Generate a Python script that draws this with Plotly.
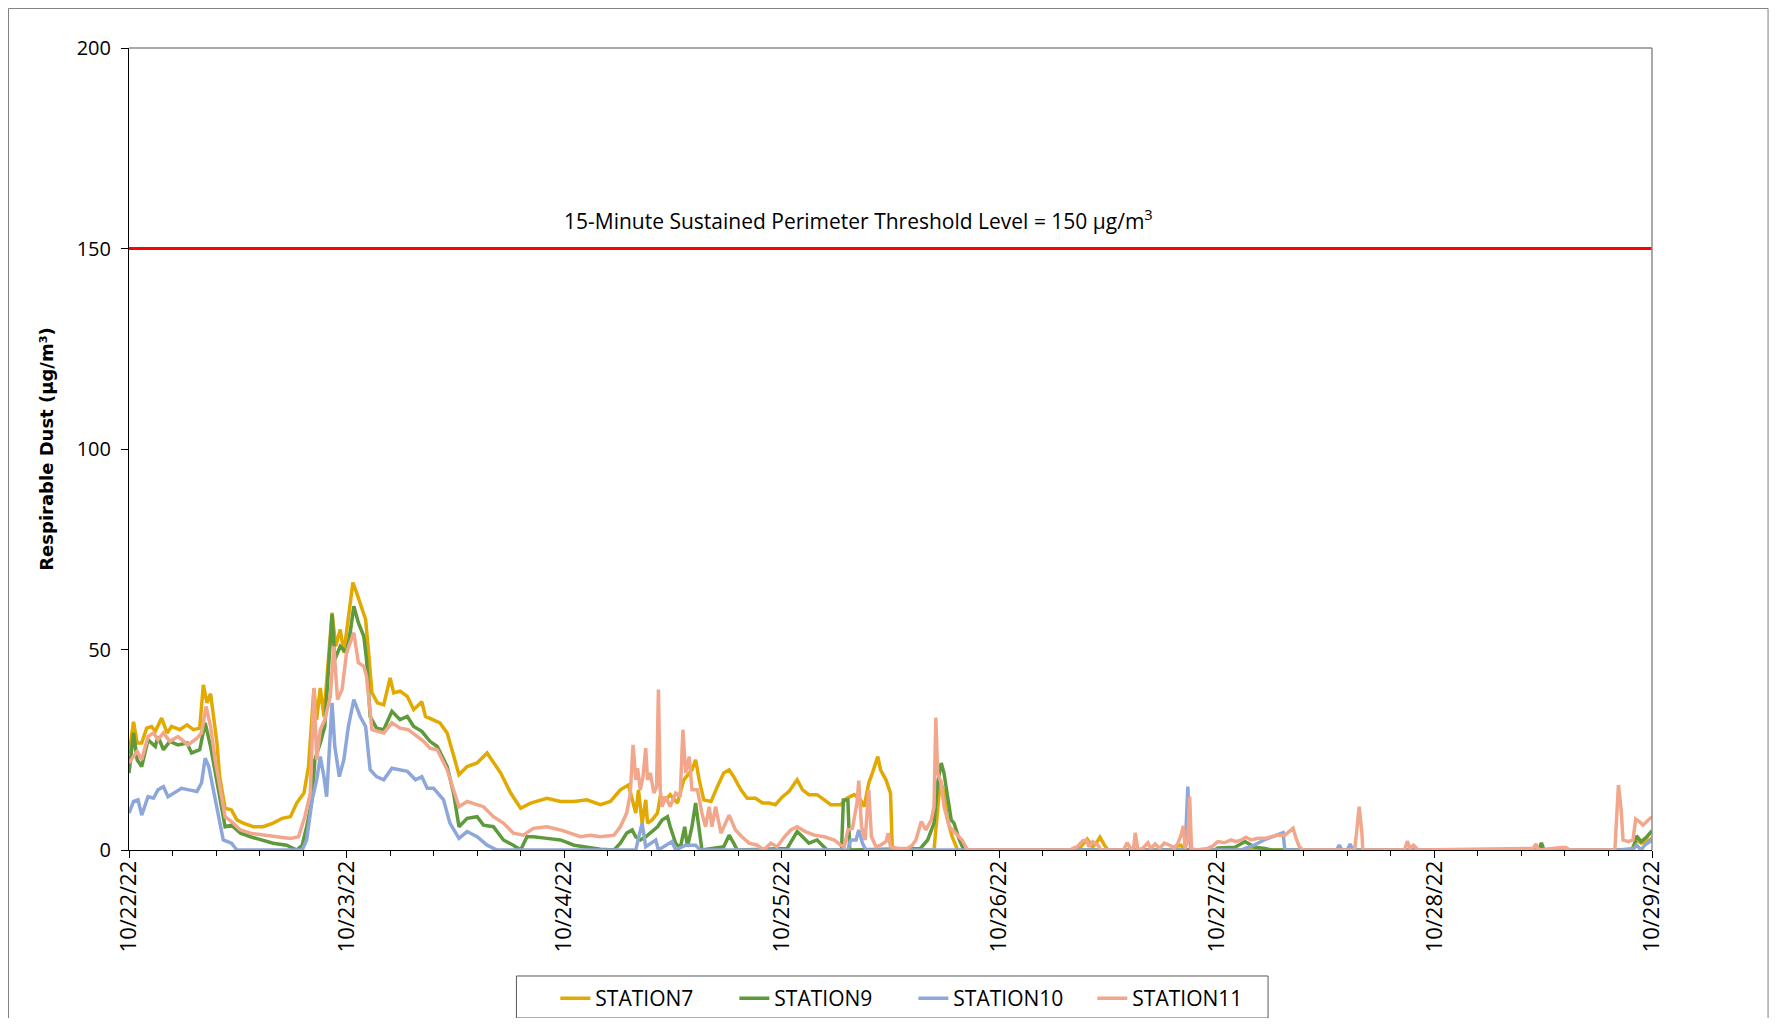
import pandas as pd
import plotly.graph_objects as go

start = pd.Timestamp("2022-10-22")
names = ["STATION7", "STATION9", "STATION10", "STATION11"]
threshold = 150

# (hours since 10/22/22 00:00, µg/m3)
station7 = [
    (0, 24), (0.5, 32), (0.9, 26.7), (1.4, 26.7), (1.95, 30.4), (2.5, 30.8), (2.9, 29.6), (3.6, 32.9),
    (4.2, 29.2), (4.7, 30.8), (5.6, 30), (6.4, 31.2), (7.1, 30), (7.8, 30.4), (8.2, 41.2), (8.6, 36.7),
    (9.0, 39), (9.3, 33.3), (9.7, 26.7), (10.0, 18.3), (10.6, 10.4), (11.3, 10), (11.9, 7.5), (12.6, 6.7),
    (13.7, 5.8), (14.8, 5.8), (15.9, 6.7), (16.9, 7.9), (17.8, 8.3), (18.5, 11.7), (19.3, 14.2), (19.8, 20.8),
    (20.4, 40.4), (20.7, 32.5), (21.1, 40.4), (21.5, 33.3), (22.0, 46.7), (22.4, 59.2), (22.8, 50.8), (23.3, 55),
    (23.7, 49.2), (24.2, 57.5), (24.7, 66.7), (25.1, 64.2), (25.5, 61.7), (26.1, 57.5), (26.4, 50), (26.8, 39.2),
    (27.4, 36.7), (28.1, 36.2), (28.8, 42.9), (29.2, 39.2), (29.9, 39.6), (30.7, 38.3), (31.4, 35), (32.3, 37),
    (32.7, 33.3), (33.6, 32.5), (34.3, 31.7), (35.1, 29.2), (35.8, 23.8), (36.4, 18.8), (37.3, 20.8), (38.4, 21.7),
    (39.5, 24.2), (40.2, 21.7), (41.0, 19.2), (42.1, 14.2), (43.2, 10.4), (44.3, 11.7), (46.1, 12.9), (47.6, 12.1),
    (49.1, 12.1), (50.5, 12.5), (52.0, 11.3), (53.1, 12.1), (54.2, 15), (55.1, 16.2), (55.5, 12.5), (55.9, 9.2),
    (56.2, 15), (56.6, 6.7), (57.0, 12.5), (57.2, 6.7), (57.7, 7.5), (58.3, 9.2), (58.6, 13.3), (59.2, 12.5),
    (59.7, 13.8), (60.5, 11.7), (61.2, 17.5), (61.8, 19.2), (62.1, 20), (62.5, 22.5), (62.9, 17.5), (63.4, 12.5),
    (64.2, 12.1), (64.9, 15.8), (65.6, 19.2), (66.2, 20), (66.7, 18.3), (67.5, 15), (68.2, 12.9), (69.1, 12.9),
    (69.9, 11.7), (70.6, 11.7), (71.3, 11.3), (72.1, 13.3), (72.8, 14.6), (73.7, 17.5), (74.3, 15), (75.0, 13.8),
    (75.9, 13.8), (76.7, 12.5), (77.4, 11.3), (78.5, 11.3), (79.2, 12.9), (80.0, 13.8), (80.7, 12.5), (81.1, 10.8),
    (81.6, 16.7), (82.0, 19.2), (82.6, 23.3), (82.9, 20), (83.5, 17.5), (84.0, 14.2), (84.2, 0), (88.8, 0),
    (89.2, 10.8), (89.5, 17.5), (89.9, 14.2), (90.3, 7.5), (90.8, 3.3), (91.2, 0.8), (91.4, 0), (104.5, 0),
    (105.0, 0.8), (105.7, 2.7), (106.3, 0.8), (106.7, 1.7), (107.1, 3.2), (107.6, 1.2), (108.0, 0), (115.0, 0),
    (115.3, 0.8), (116.05, 1.2), (116.4, 0), (122.8, 0), (123.3, 0.5), (124.0, 0.3), (124.5, 0), (165.7, 0),
    (166.3, 2.5), (166.8, 1.7), (167.4, 2.1), (168, 2.9),
]

station9 = [
    (0, 19.2), (0.5, 29.2), (0.9, 22.5), (1.4, 20.8), (2.1, 27.5), (2.9, 25.8), (3.2, 28.3), (3.8, 25),
    (4.5, 27.1), (5.4, 26.2), (6.4, 26.7), (6.9, 24.2), (7.8, 25), (8.4, 31.7), (9.0, 25.8), (9.5, 19.2),
    (10.0, 12.5), (10.6, 5.8), (11.3, 6.2), (12.3, 4.2), (13.4, 3.3), (14.5, 2.5), (15.9, 1.7), (17.4, 1.2),
    (18.5, 0), (19.1, 1.2), (19.6, 5.8), (20.2, 12.5), (20.5, 22.5), (21.1, 26.7), (21.6, 30.8), (22.0, 45),
    (22.4, 58.8), (22.7, 47.5), (23.3, 50.8), (24.0, 49.2), (24.4, 54.2), (24.8, 60.8), (25.3, 56.7), (25.9, 53.3),
    (26.2, 47.5), (26.6, 33.3), (27.3, 30.4), (28.1, 30), (29.0, 34.6), (29.9, 32.5), (30.7, 33.3), (31.4, 30.8),
    (32.3, 29.6), (33.2, 27.1), (34.0, 25.8), (35.1, 20.8), (35.8, 14.2), (36.4, 5.8), (37.3, 7.9), (38.4, 8.3),
    (39.1, 6.2), (40.2, 5.8), (41.3, 2.5), (42.4, 1.2), (43.2, 0), (43.9, 3.3), (44.6, 3.3), (46.1, 2.9),
    (47.6, 2.5), (49.1, 1.2), (50.5, 0.8), (52.0, 0.2), (53.5, 0), (54.2, 1.7), (54.9, 4.2), (55.5, 5),
    (55.9, 3.3), (56.4, 2.5), (57.0, 3.3), (57.5, 4.2), (58.3, 5.8), (58.8, 7.5), (59.4, 8.3), (59.7, 5.8),
    (60.3, 1.7), (60.8, 0.4), (61.3, 5.8), (61.6, 0.8), (62.1, 5.8), (62.5, 11.7), (62.9, 4.2), (63.2, 0),
    (65.6, 0.8), (66.2, 3.7), (66.7, 1.7), (67.1, 0), (72.6, 0.4), (73.2, 2.5), (73.7, 4.6), (74.3, 3.3),
    (75.0, 1.7), (75.9, 2.5), (76.7, 0.8), (77.0, 0), (78.6, 0), (78.8, 12.5), (79.3, 12.5), (79.5, 0),
    (87.3, 0.4), (88.1, 2.5), (88.8, 6.7), (89.2, 16.7), (89.6, 21.7), (89.9, 19.2), (90.3, 13.3), (90.7, 7.5),
    (91.0, 6.7), (91.6, 2.5), (92.1, 0), (119.8, 0), (120.1, 0.5), (122.0, 0.7), (123.1, 2.1), (124.2, 0.7),
    (125.3, 0.4), (126.0, 0), (155.5, 0), (155.8, 1.8), (156.1, 0), (165.9, 0), (166.3, 3.5), (166.8, 2.1),
    (167.4, 3.2), (168, 4.8),
]

station10 = [
    (0, 9.2), (0.5, 12.1), (1.0, 12.5), (1.4, 8.7), (2.1, 13.3), (2.7, 12.9), (3.2, 15), (3.8, 15.8),
    (4.3, 13.3), (4.9, 14.2), (5.8, 15.4), (6.6, 15), (7.5, 14.6), (8.0, 16.7), (8.4, 22.9), (8.8, 20.8),
    (9.3, 15), (9.9, 8.3), (10.4, 2.5), (11.3, 1.7), (11.9, 0), (19.1, 0), (19.6, 2.5), (20.2, 12.5),
    (20.7, 17.5), (21.1, 23.3), (21.5, 18.3), (21.8, 13.3), (22.4, 36.7), (22.7, 25.8), (23.2, 18.3), (23.7, 22.5),
    (24.2, 30.8), (24.8, 37.5), (25.5, 33.3), (26.1, 30.8), (26.6, 20), (27.3, 18.3), (28.1, 17.5), (29.0, 20.4),
    (29.9, 20), (30.7, 19.6), (31.6, 17.5), (32.3, 18.3), (32.9, 15.4), (33.6, 15.4), (34.7, 12.5), (35.4, 6.7),
    (36.4, 2.9), (37.3, 4.6), (38.4, 3.3), (39.5, 1.2), (40.6, 0), (55.9, 0), (56.6, 6.7), (57.0, 0.8),
    (58.1, 2.5), (58.4, 0), (59.9, 2.1), (60.3, 0), (61.4, 1.2), (62.5, 1.2), (63.0, 0), (79.3, 0),
    (79.6, 2.5), (80.2, 2.5), (80.5, 5), (80.9, 1.7), (81.3, 0), (116.5, 0), (116.8, 15.8), (117.1, 0),
    (122.7, 0), (124.1, 1.2), (125.2, 2.5), (126.4, 3.5), (127.3, 4.3), (127.5, 0), (133.2, 0), (133.5, 1.2),
    (133.8, 0), (134.4, 0), (134.7, 1.5), (135.0, 0), (164.3, 0), (166.0, 0.4), (166.3, 1.2), (166.8, 0),
    (167.2, 1.2), (168, 2.5),
]

station11 = [
    (0, 21.7), (0.5, 23.3), (0.9, 24.6), (1.4, 22.5), (2.1, 28.3), (2.7, 29.2), (3.2, 27.5), (3.8, 29.2),
    (4.5, 27.1), (5.4, 28.3), (6.5, 26.2), (7.5, 27.9), (8.0, 29.2), (8.5, 35.8), (9.0, 30.8), (9.5, 22.5),
    (10.1, 14.2), (10.6, 8.3), (11.3, 7.1), (12.3, 5), (13.4, 4.2), (14.8, 3.7), (16.3, 3.3), (17.8, 2.9),
    (18.7, 3.3), (19.4, 8.3), (20.0, 14.2), (20.4, 40.4), (20.7, 22.5), (21.1, 30), (21.6, 32.5), (22.2, 38.3),
    (22.6, 50.8), (23.0, 37.5), (23.5, 40), (24.0, 49.2), (24.8, 54.2), (25.3, 46.7), (25.9, 45.8), (26.2, 43.3),
    (26.8, 30), (27.4, 29.6), (28.1, 29.2), (29.0, 31.7), (29.9, 30.4), (30.8, 30), (31.6, 28.7), (32.5, 27.1),
    (33.2, 25.4), (34.0, 25), (35.1, 20), (35.8, 15), (36.4, 10.8), (37.3, 12.1), (38.4, 11.2), (39.1, 10.8),
    (40.2, 8.3), (41.3, 6.7), (42.4, 4.2), (43.5, 3.7), (44.6, 5.4), (46.1, 5.8), (47.6, 5), (48.7, 4.2),
    (49.8, 3.3), (50.9, 3.7), (52.0, 3.3), (53.5, 3.7), (54.2, 5.8), (54.9, 9.2), (55.3, 14.2), (55.6, 26.2),
    (55.9, 17.5), (56.1, 20.4), (56.4, 15), (56.7, 18.3), (57.0, 25.4), (57.2, 17.5), (57.5, 19.2), (57.9, 14.2),
    (58.2, 15.8), (58.4, 40), (58.6, 15), (58.8, 10.8), (59.2, 13.3), (59.7, 10.8), (60.3, 14.2), (60.8, 13.3),
    (61.1, 30), (61.4, 19.2), (61.8, 23.3), (62.1, 15), (62.7, 15), (63.2, 9.2), (63.6, 5.8), (64.0, 10.8),
    (64.3, 5.8), (64.7, 10.8), (65.3, 4.2), (66.2, 8.7), (66.9, 5), (67.6, 3.3), (68.4, 1.7), (69.3, 1.2),
    (70.0, 0), (70.8, 1.7), (71.5, 0.8), (72.3, 3.3), (73.0, 5), (73.7, 5.8), (74.6, 4.6), (75.6, 3.7),
    (76.7, 3.3), (77.8, 2.5), (78.5, 1.2), (78.9, 0.8), (79.3, 5), (79.8, 5.4), (80.3, 11.7), (80.5, 17.3),
    (80.8, 5.8), (81.2, 2.5), (81.6, 15), (81.9, 3.3), (82.4, 0.8), (82.9, 1.2), (83.5, 2.1), (83.75, 4.2),
    (84.0, 0.8), (84.8, 0.4), (85.9, 0.4), (86.4, 1.2), (86.8, 2.5), (87.4, 7.1), (87.9, 5), (88.5, 7.5),
    (88.8, 10.8), (89.0, 33), (89.2, 19.2), (89.6, 16.7), (89.9, 10.8), (90.5, 5.8), (91.2, 4.2), (91.9, 2.5),
    (92.5, 0), (103.9, 0), (104.1, 0.4), (104.6, 0.8), (105.2, 2.3), (105.6, 2.5), (105.9, 0.8), (106.3, 2.1),
    (106.9, 1.2), (107.2, 0), (109.7, 0), (110.1, 1.8), (110.6, 0), (110.8, 0), (111.0, 4.3), (111.3, 0),
    (111.8, 0.4), (112.4, 1.8), (112.7, 0.4), (113.2, 1.5), (113.7, 0.4), (114.2, 1.7), (114.8, 1.2), (115.3, 0.4),
    (115.7, 1.7), (116.05, 3.7), (116.3, 6), (116.5, 0.4), (116.8, 2.5), (117.0, 13.3), (117.2, 0.4), (117.7, 0),
    (119.0, 0.4), (119.55, 1), (120.1, 2.1), (120.8, 1.8), (121.6, 2.5), (122.1, 2.1), (122.7, 2.5), (123.2, 3.2),
    (123.8, 2.5), (124.5, 2.9), (125.3, 2.9), (126.0, 3.3), (126.7, 3.7), (127.5, 3.7), (128.0, 4.6), (128.4, 5.4),
    (128.8, 2.5), (129.1, 0.8), (129.5, 0), (135.2, 0), (135.4, 4.2), (135.7, 10.8), (136.0, 4.2), (136.1, 0),
    (140.7, 0), (141.0, 2.2), (141.3, 0.4), (141.7, 1.2), (142.2, 0), (154.9, 0.4), (155.2, 1.5), (155.5, 0),
    (158.0, 0.6), (158.5, 0.6), (158.9, 0), (163.9, 0), (164.3, 16.2), (164.6, 10), (164.8, 2.5), (165.4, 2.1),
    (165.9, 2.5), (166.2, 7.7), (166.6, 7.1), (167.0, 6.2), (167.6, 7.5), (168, 8.3),
]

colors = ["#E2A900", "#5E9A3C", "#8EA7DB", "#F2A78C"]

fig = go.Figure()
for name, series, color in zip(names, [station7, station9, station10, station11], colors):
    hours = [h for h, _ in series]
    vals = [v for _, v in series]
    times = start + pd.to_timedelta(hours, unit="h")
    fig.add_trace(go.Scatter(x=times, y=vals, mode="lines", name=name,
                             line=dict(color=color, width=3.5)))

fig.add_shape(type="line", xref="paper", x0=0, x1=1, yref="y", y0=threshold, y1=threshold,
              line=dict(color="#FF0000", width=3))
# plot-area frame (top / right), chart-area frame and legend box
fig.add_shape(type="line", xref="paper", yref="paper", x0=0, x1=1, y0=1, y1=1,
              line=dict(color="#8C8C8C", width=1.5))
fig.add_shape(type="line", xref="paper", yref="paper", x0=1, x1=1, y0=0, y1=1,
              line=dict(color="#8C8C8C", width=1.5))
fig.add_shape(type="rect", xref="paper", yref="paper", x0=-0.0791, x1=1.0762, y0=-0.24, y1=1.0493,
              line=dict(color="#7F7F7F", width=1))
fig.add_shape(type="rect", xref="paper", yref="paper", x0=0.2544, x1=0.7479, y0=-0.2095, y1=-0.1571,
              line=dict(color="#595959", width=1))

fig.add_annotation(text="15-Minute Sustained Perimeter Threshold Level = 150 µg/m<sup>3</sup>",
                   xref="paper", x=0.479, yref="y", y=threshold, yanchor="bottom", yshift=11,
                   showarrow=False, font=dict(size=21, color="black"))

# page body has an 8px margin, so the figure is sized to fit inside it
fig.update_layout(
    width=1764, height=1010,
    margin=dict(l=121, r=120, t=40, b=168, autoexpand=False),
    plot_bgcolor="white", paper_bgcolor="white",
    font=dict(family="Open Sans", size=20, color="black"),
    showlegend=True,
    legend=dict(orientation="h", x=0.515, xanchor="center", y=-0.1596, yanchor="top",
                borderwidth=0, bgcolor="rgba(0,0,0,0)",
                entrywidth=134, entrywidthmode="pixels", font=dict(size=21)),
    xaxis=dict(type="date", range=[start, start + pd.Timedelta(days=7)],
               tick0=start, dtick=86400000, tickformat="%m/%d/%y", tickangle=-90,
               tickfont=dict(size=22), ticklabelstandoff=-6,
               ticks="outside", ticklen=7, tickcolor="black",
               showline=True, linecolor="black", linewidth=1,
               showgrid=False, zeroline=False,
               minor=dict(ticks="outside", ticklen=5, tickcolor="black",
                          tick0=start, dtick=17280000, showgrid=False)),
    yaxis=dict(range=[0, 200], dtick=50, ticks="outside", ticklen=7, tickcolor="black",
               tickfont=dict(size=20), ticklabelstandoff=6,
               showline=True, linecolor="black", linewidth=1,
               showgrid=False, zeroline=False,
               title=dict(text="Respirable Dust (µg/m³)", standoff=18,
                          font=dict(family="DejaVu Sans", size=18, weight="bold"))),
)

fig.write_html("out.html")
